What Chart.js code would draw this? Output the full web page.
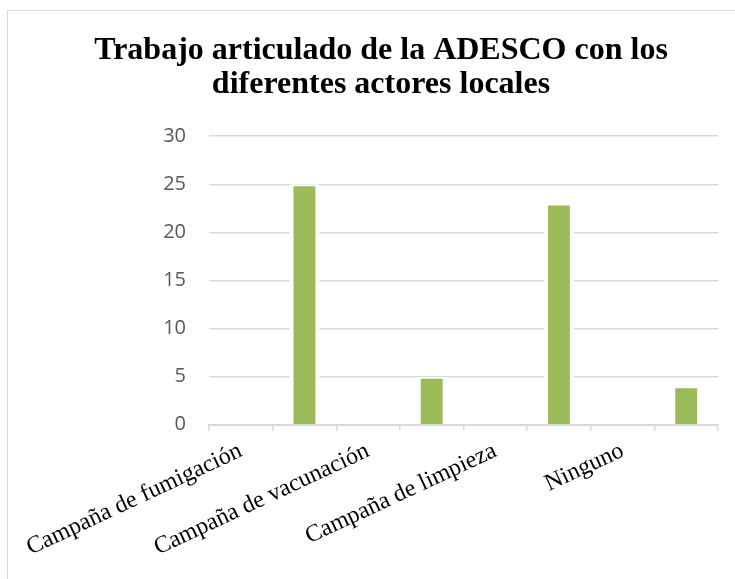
<!DOCTYPE html>
<html>
<head>
<meta charset="utf-8">
<script src="https://cdn.jsdelivr.net/npm/chart.js@4"></script>
<style>
  html, body { margin: 0; padding: 0; background: #fff; overflow: hidden; width: 735px; height: 579px; }
  #frame { position: absolute; left: 7px; top: 10px; width: 750px; height: 600px; border: 1px solid #d9d9d9; }
  #chart { display: block; }
</style>
</head>
<body>
<div id="frame"><canvas id="chart" width="750" height="600"></canvas></div>
<script>
// categories (Excel layout: label on odd slots, bar on the next slot)
const categories = ['Campaña de fumigación', '', 'Campaña de vacunación', '', 'Campaña de limpieza', '', 'Ninguno', ''];
const values = [0, 25, 0, 5, 0, 23, 0, 4];
const yTicks = [0, 5, 10, 15, 20, 25, 30];
const titleLines = ['Trabajo articulado de la ADESCO con los', 'diferentes actores locales'];

const ctx = document.getElementById('chart').getContext('2d');
new Chart(ctx, {
  type: 'bar',
  data: {
    labels: categories,
    datasets: [{
      data: values,
      backgroundColor: '#9bbb59',
      borderColor: '#ffffff',
      borderWidth: { top: 2, left: 4, right: 4, bottom: 0 },
      borderSkipped: false,
      barPercentage: 0.47,
      categoryPercentage: 1
    }]
  },
  options: {
    responsive: false,
    animation: false,
    layout: {
      padding: { left: 36, right: 40, top: 0, bottom: 43 }
    },
    plugins: {
      legend: { display: false },
      tooltip: { enabled: false },
      title: {
        display: true,
        text: titleLines,
        color: '#000000',
        font: { family: 'Liberation Serif', size: 32, weight: 'bold', lineHeight: 1.05 },
        padding: { top: 23, bottom: 35 }
      }
    },
    scales: {
      y: {
        min: 0,
        max: 30,
        afterBuildTicks: axis => { axis.ticks = yTicks.map(v => ({ value: v })); },
        afterFit: axis => { axis.width = 165; },
        border: { display: false },
        grid: { color: '#d9d9d9', lineWidth: 1.5, drawTicks: false },
        ticks: {
          color: '#595959',
          font: { family: 'Open Sans', size: 20 },
          padding: 23
        }
      },
      x: {
        border: { color: '#d9d9d9', width: 2 },
        grid: { drawOnChartArea: false, drawTicks: true, tickLength: 6, color: '#d9d9d9', lineWidth: 1.5 },
        ticks: {
          color: '#000000',
          font: { family: 'Liberation Serif', size: 24 },
          minRotation: 25,
          maxRotation: 25,
          autoSkip: false,
          padding: 6
        }
      }
    }
  }
});
</script>
</body>
</html>
